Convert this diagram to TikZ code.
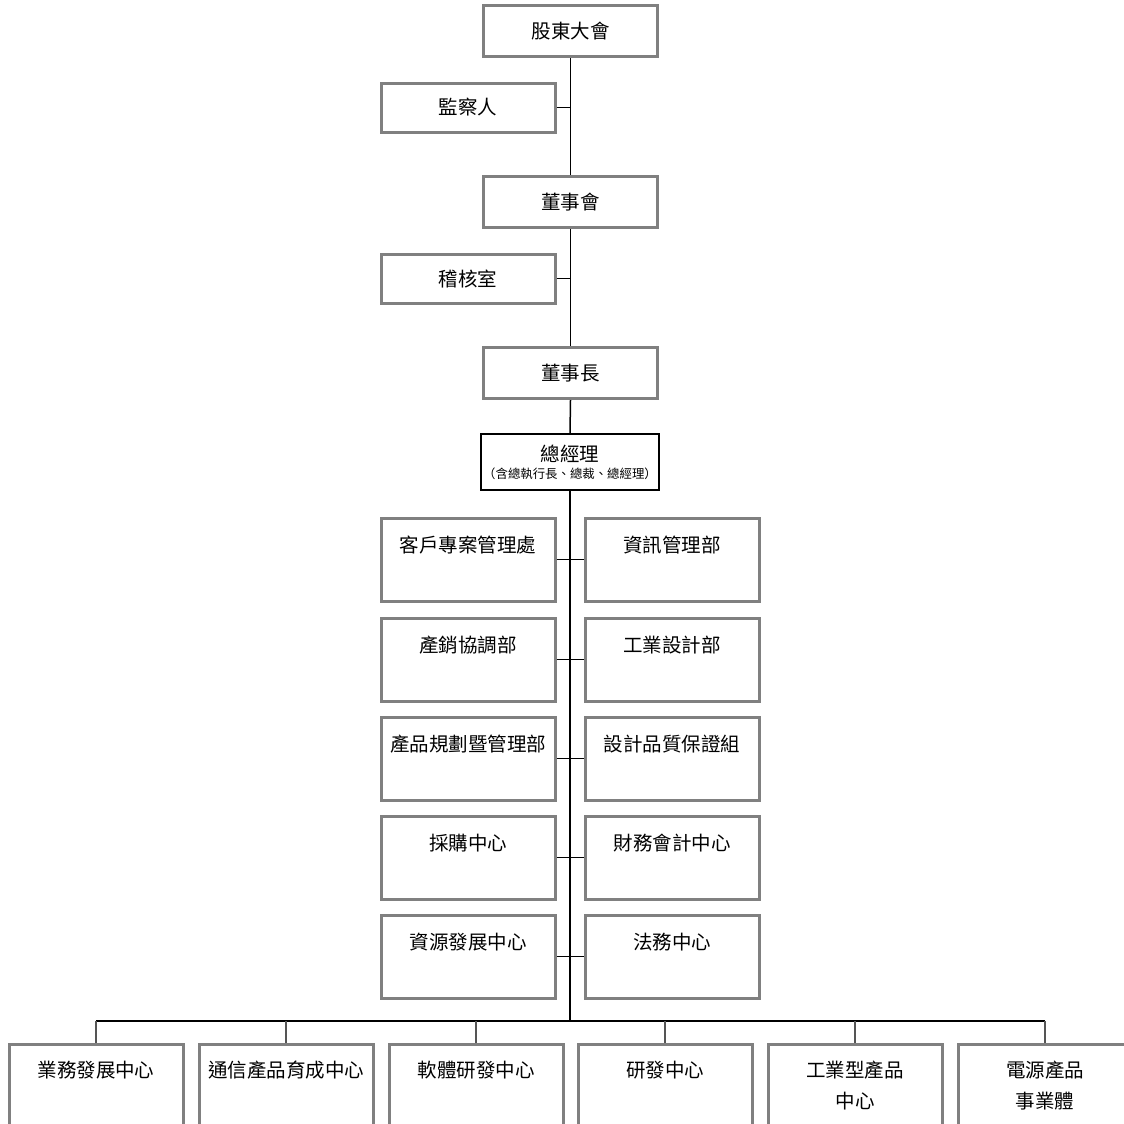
\documentclass[tikz,border=0pt]{standalone}
\usepackage{fontspec}
\setmainfont{Noto Sans CJK TC}
\definecolor{boxgray}{RGB}{128,128,128}
\definecolor{dropgray}{RGB}{85,85,85}
\tikzset{
  unit/.style={draw=boxgray, line width=3pt, minimum width=174pt, inner sep=0pt,
    font=\fontsize{19.5}{31}\selectfont},
  topbox/.style={unit, minimum height=51pt},
  midbox/.style={unit, text height=34pt, text depth=49pt},
  botbox/.style={unit, anchor=north, align=center, text height=33pt, text depth=90pt},
  twoline/.style={text height=64pt, text depth=60pt},
  gmbox/.style={draw, line width=2pt, minimum width=178pt, minimum height=56pt,
    inner sep=0pt, align=center, font=\fontsize{19.5}{20}\selectfont},
  link/.style={line width=1.5pt},
  drop/.style={draw=dropgray, line width=1.5pt}
}
\begin{document}
\begin{tikzpicture}[x=1pt, y=-1pt]
\clip (0,0) rectangle (1124,1124);
\node (SH) [topbox] at (570.5,31.5) {股東大會};
\node (SUP) [topbox, minimum height=49pt] at (468,107.5) {監察人};
\node (BD) [topbox] at (570.5,202) {董事會};
\node (AUD) [topbox, minimum height=49pt] at (468,278.5) {稽核室};
\node (CH) [topbox] at (570.5,373) {董事長};
\node (GM) [gmbox] at (570,462) {總經理\\[-3pt]{\fontsize{12.4}{14}\selectfont （含總執行長、總裁、總經理）}};

\node (L1) [midbox] at (468,559.5) {客戶專案管理處};
\node (R1) [midbox] at (672,559.5) {資訊管理部};
\node (L2) [midbox] at (468,659.5) {產銷協調部};
\node (R2) [midbox] at (672,659.5) {工業設計部};
\node (L3) [midbox] at (468,758.5) {產品規劃暨管理部};
\node (R3) [midbox] at (672,758.5) {設計品質保證組};
\node (L4) [midbox] at (468,857.5) {採購中心};
\node (R4) [midbox] at (672,857.5) {財務會計中心};
\node (L5) [midbox] at (468,956.5) {資源發展中心};
\node (R5) [midbox] at (672,956.5) {法務中心};

\node (B1) [botbox] at (96,1043) {業務發展中心};
\node (B2) [botbox] at (286,1043) {通信產品育成中心};
\node (B3) [botbox] at (476,1043) {軟體研發中心};
\node (B4) [botbox] at (665,1043) {研發中心};
\node (B5) [botbox, twoline] at (855,1043) {工業型產品\\中心};
\node (B6) [botbox, twoline] at (1045,1043) {電源產品\\事業體};
\coordinate (bar) at (570,1021);

\draw[link] (SH.south) -- (BD.north);
\draw[link] (BD.south) -- (CH.north);
\draw[link] (CH.south) -- (GM.north);
\draw[link] (GM.south) -- (bar);
\draw[link] (SUP.east) -- (SUP.east -| SH.south);
\draw[link] (AUD.east) -- (AUD.east -| BD.south);
\foreach \r in {1,...,5}
  \draw[link] (L\r.east) -- (R\r.west);
\draw[link] (B1.north |- bar) -- (B6.north |- bar);
\foreach \b in {1,...,6}
  \draw[drop] (B\b.north |- bar) -- (B\b.north);
\end{tikzpicture}
\end{document}
